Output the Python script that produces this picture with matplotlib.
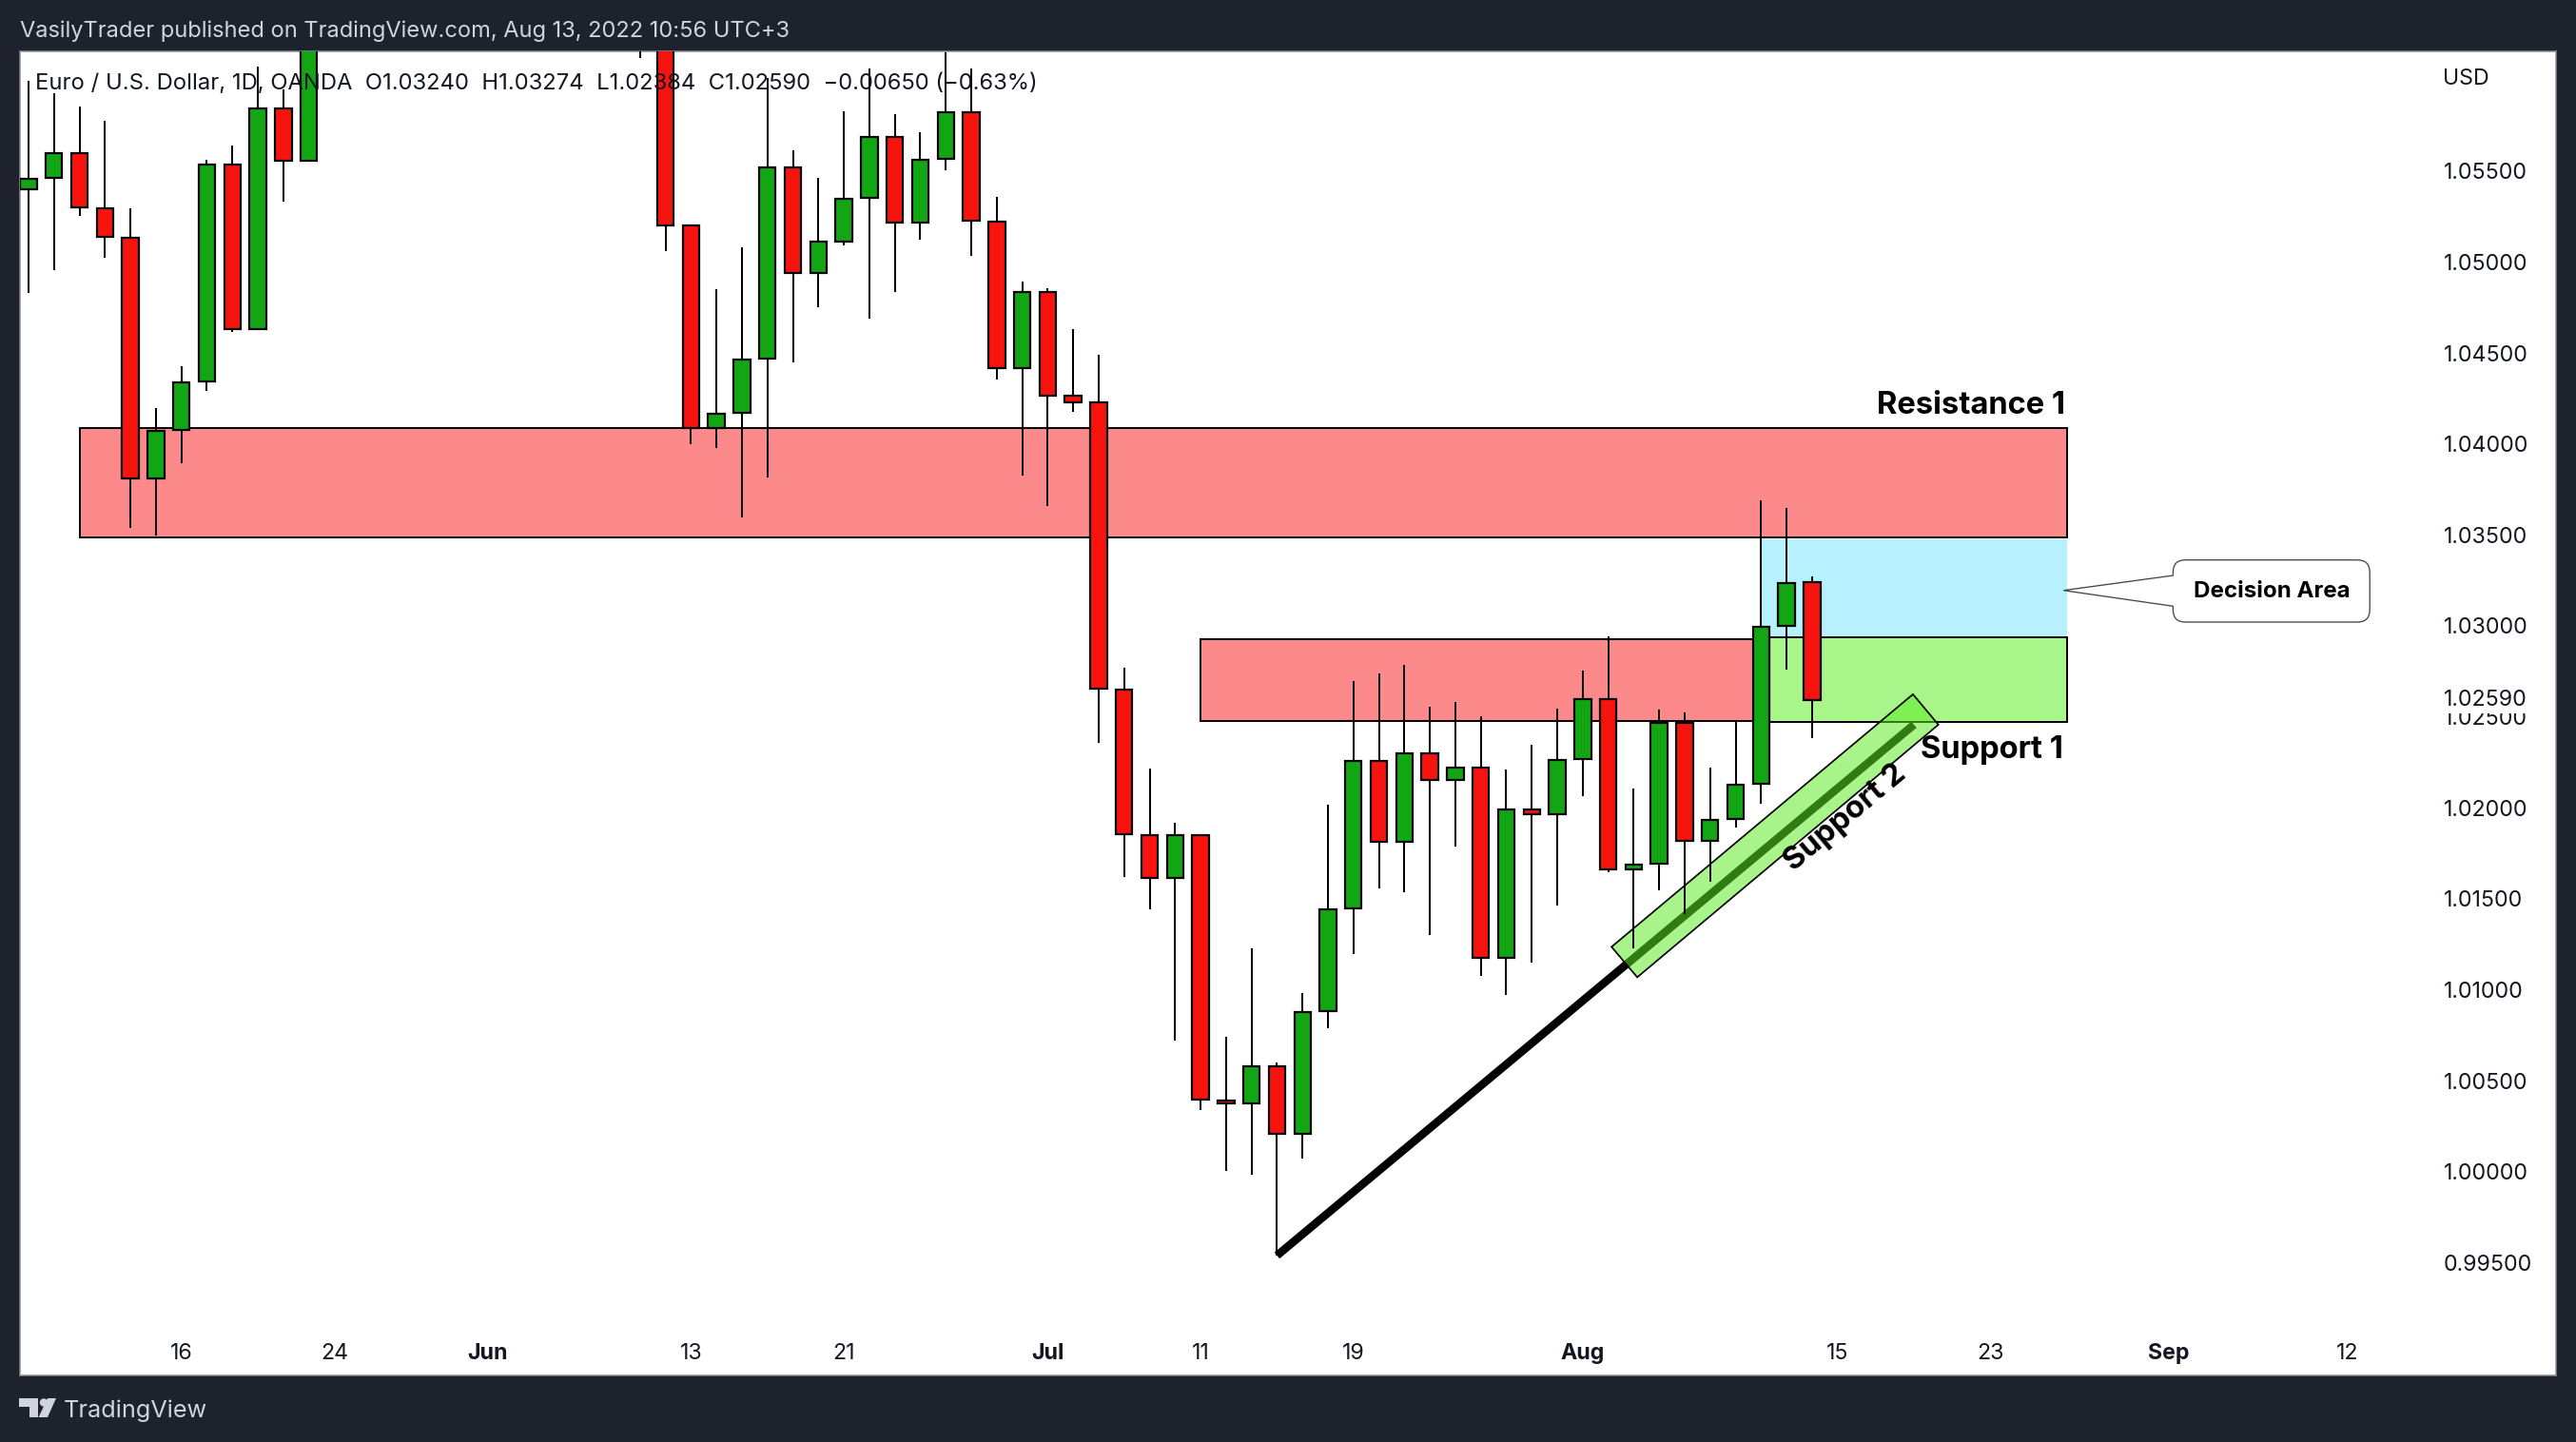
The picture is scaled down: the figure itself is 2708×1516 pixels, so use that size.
import numpy as np
import matplotlib
matplotlib.use('Agg')
import matplotlib.pyplot as plt
from matplotlib.patches import Polygon, PathPatch, Circle, Rectangle
from matplotlib.path import Path

plt.rcParams['font.family'] = ['Inter', 'DejaVu Sans']

# Candles by trading day, 0 = 10 May 2022. Days 12-23 sit above the visible range.
nan = float('nan')
opens = [1.05397, 1.05462, 1.05599, 1.05295, 1.05135, 1.03810, 1.04075, 1.04341, 1.05537, 1.04629,
         1.05841, 1.05557, nan, nan, nan, nan, nan, nan, nan, nan,
         nan, nan, nan, nan, 1.07150, 1.06200, 1.05203, 1.04089, 1.04169, 1.04470,
         1.05521, 1.04939, 1.05113, 1.05352, 1.05688, 1.05216, 1.05566, 1.05825, 1.05222, 1.04416,
         1.04832, 1.04263, 1.04226, 1.02650, 1.01852, 1.01615, 1.01852, 1.00393, 1.00375, 1.00582,
         1.00209, 1.00882, 1.01446, 1.02258, 1.01812, 1.02300, 1.02152, 1.02222, 1.01176, 1.01993,
         1.01965, 1.02269, 1.02599, 1.01662, 1.01694, 1.02469, 1.01817, 1.01937, 1.02133, 1.03000,
         1.03240]
highs = [1.05995, 1.05925, 1.05854, 1.05775, 1.05293, 1.04199, 1.04429, 1.05559, 1.05639, 1.06073,
         1.05948, 1.06980, nan, nan, nan, nan, nan, nan, nan, nan,
         nan, nan, nan, nan, 1.07750, 1.06400, 1.05203, 1.04849, 1.05078, 1.06010,
         1.05614, 1.05462, 1.05827, 1.06063, 1.05812, 1.05712, 1.06151, 1.06063, 1.05357, 1.04892,
         1.04858, 1.04631, 1.04490, 1.02768, 1.02214, 1.01916, 1.01852, 1.00742, 1.01228, 1.00599,
         1.00982, 1.02016, 1.02697, 1.02739, 1.02784, 1.02556, 1.02580, 1.02502, 1.02211, 1.02347,
         1.02545, 1.02754, 1.02941, 1.02106, 1.02540, 1.02523, 1.02221, 1.02474, 1.03690, 1.03648,
         1.03274]
lows = [1.04831, 1.04955, 1.05255, 1.05025, 1.03539, 1.03498, 1.03895, 1.04293, 1.04617, 1.04623,
        1.05333, 1.05557, nan, nan, nan, nan, nan, nan, nan, nan,
        nan, nan, nan, nan, 1.06118, 1.05059, 1.03999, 1.03975, 1.03598, 1.03813,
        1.04448, 1.04753, 1.05093, 1.04690, 1.04832, 1.05123, 1.05505, 1.05035, 1.04356, 1.03828,
        1.03659, 1.04178, 1.02358, 1.01622, 1.01444, 1.00723, 1.00341, 1.00007, 0.99986, 0.99540,
        1.00075, 1.00791, 1.01197, 1.01558, 1.01538, 1.01302, 1.01788, 1.01078, 1.00974, 1.01147,
        1.01464, 1.02062, 1.01646, 1.01229, 1.01548, 1.01418, 1.01595, 1.01894, 1.02025, 1.02762,
        1.02384]
closes = [1.05457, 1.05599, 1.05299, 1.05137, 1.03810, 1.04073, 1.04339, 1.05537, 1.04629, 1.05841,
          1.05557, 1.06900, nan, nan, nan, nan, nan, nan, nan, nan,
          nan, nan, nan, nan, 1.06200, 1.05203, 1.04089, 1.04167, 1.04466, 1.05521,
          1.04939, 1.05113, 1.05349, 1.05688, 1.05216, 1.05561, 1.05825, 1.05226, 1.04416, 1.04832,
          1.04263, 1.04227, 1.02655, 1.01854, 1.01615, 1.01852, 1.00397, 1.00375, 1.00582, 1.00209,
          1.00879, 1.01444, 1.02258, 1.01812, 1.02300, 1.02152, 1.02222, 1.01176, 1.01992, 1.01965,
          1.02265, 1.02599, 1.01660, 1.01690, 1.02469, 1.01817, 1.01935, 1.02129, 1.02997, 1.03236,
          1.02590]
# a few almost flat bars: colour taken from the picture, not from open/close
red_doji = [47, 59]
green_doji = [63]

price_ticks = [0.995, 1.000, 1.005, 1.010, 1.015, 1.020, 1.025, 1.030, 1.035, 1.040, 1.045, 1.050, 1.055]
day_ticks = [6, 12, 18, 26, 32, 40, 46, 52, 61, 71, 77, 84, 91]
day_labels = ['16', '24', 'Jun', '13', '21', 'Jul', '11', '19', 'Aug', '15', '23', 'Sep', '12']
month_labels = ['Jun', 'Jul', 'Aug', 'Sep']
last_price = 1.02590

# Zones: day start, day end, price top, price bottom
resistance_1 = [2, 80, 1.04089, 1.03486]
resistance_small = [46, 68, 1.02928, 1.02478]
decision_blue = [68, 80, 1.03475, 1.02937]
support_1 = [68, 80, 1.02937, 1.02472]

# Trend line and channel around it
trend_days = [49, 74]
trend_prices = [0.99540, 1.02457]
channel_days = [62.13, 63.14, 74.96, 73.96]
channel_prices = [1.01236, 1.01069, 1.02457, 1.02624]

BG = '#1e222d'
RED = '#f8140e'
GREEN = '#12a615'
ZONE_RED = '#fc8a8a'
ZONE_GREEN = '#a8f58a'
ZONE_BLUE = '#b7f0ff'
TEXT = '#131722'
CHROME = '#d1d4dc'
PX = 0.72  # 1 px in points at dpi 100

W, H = 2708, 1516
fig = plt.figure(figsize=(W / 100, H / 100), dpi=100, facecolor=BG)

left, right, top, bottom = 20.6, 2687, 54, 1446
ax = fig.add_axes([left / W, 1 - bottom / H, (right - left) / W, (bottom - top) / H])
ax.set_facecolor('white')
ax.set_xlim(-0.351, 99.2)
ax.set_ylim(0.98881, 1.06157)
for s in ax.spines.values():
    s.set_color('#8a8d96')
    s.set_linewidth(1.5 * PX)

days = np.arange(len(opens))
o = np.array(opens)
c = np.array(closes)
hi = np.array(highs)
lo = np.array(lows)
ok = ~np.isnan(o)
up = c >= o
up[red_doji] = False
up[green_doji] = True

# zones under everything
for z, col, edge in [(resistance_1, ZONE_RED, 'black'), (resistance_small, ZONE_RED, 'black'),
                     (decision_blue, ZONE_BLUE, 'none'), (support_1, ZONE_GREEN, 'black')]:
    ax.add_patch(Rectangle((z[0], z[3]), z[1] - z[0], z[2] - z[3], facecolor=col, edgecolor=edge,
                           linewidth=2 * PX, zorder=1))

ax.plot(trend_days, trend_prices, color='black', lw=8.5 * PX, solid_capstyle='butt', zorder=2)
ax.add_patch(Polygon(np.column_stack([channel_days, channel_prices]), closed=True, facecolor='#5bec22',
                     alpha=0.53, edgecolor='none', zorder=3))
ax.add_patch(Polygon(np.column_stack([channel_days, channel_prices]), closed=True, facecolor='none',
                     edgecolor='black', linewidth=1.7 * PX, zorder=3))

# candles
ax.vlines(days[ok], lo[ok], hi[ok], color='black', lw=2 * PX, zorder=4)
ax.bar(days[ok], np.abs(c - o)[ok], bottom=np.minimum(o, c)[ok], width=0.65,
       color=[GREEN if u else RED for u in up[ok]], edgecolor='black', linewidth=2.2 * PX, zorder=5)

# symbol line is drawn over the candles
ax.text(0.00604, 0.9757, 'Euro / U.S. Dollar, 1D, OANDA  O1.03240  H1.03274  L1.02384  C1.02590  '
        '\u22120.00650 (\u22120.63%)', transform=ax.transAxes, fontsize=17.15, color=TEXT, va='center', zorder=6)

ax.text(79.93, 1.04212, 'Resistance 1', ha='right', va='center', fontsize=23.5, fontweight='bold', color='black', zorder=6)
ax.text(79.87, 1.02316, 'Support 1', ha='right', va='center', fontsize=23.5, fontweight='bold', color='black', zorder=6)
ax.text(71.3, 1.01945, 'Support 2', ha='center', va='center', rotation=40, rotation_mode='anchor',
        fontsize=23.5, fontweight='bold', color='black', zorder=6)

# price scale inside the white area, on the right
ax.yaxis.tick_right()
ax.set_yticks(price_ticks)
ax.set_yticklabels(['%.5f' % p for p in price_ticks])
ax.tick_params(axis='y', length=0, pad=-118 * PX, labelsize=16.7, labelcolor=TEXT)
ax.set_xticks(day_ticks)
ax.set_xticklabels(day_labels)
ax.tick_params(axis='x', length=0, pad=-34 * PX, labelsize=16.7, labelcolor=TEXT)
for lab in ax.get_xticklabels():
    if lab.get_text() in month_labels:
        lab.set_fontweight('bold')

ax.text(0.9558, last_price, '%.5f' % last_price, transform=ax.get_yaxis_transform(), fontsize=16.7, color=TEXT,
        va='center', ha='left', zorder=7, bbox=dict(facecolor='white', edgecolor='none', pad=1.5))

# page furniture in pixel coordinates
over = fig.add_axes([0, 0, 1, 1])
over.set_xlim(0, W)
over.set_ylim(H, 0)
over.axis('off')
over.patch.set_alpha(0)

over.text(20.7, 32.5, 'VasilyTrader published on TradingView.com, Aug 13, 2022 10:56 UTC+3',
          fontsize=17, color=CHROME, va='center')
over.text(2568, 83, 'USD', fontsize=16.7, color=TEXT, va='center')
over.text(67, 1483, 'TradingView', fontsize=18.2, color=CHROME, va='center')

# logo
over.add_patch(Polygon([(20, 1470), (40, 1470), (40, 1490), (31, 1490), (31, 1479), (20, 1479)], color=CHROME, lw=0))
over.add_patch(Circle((46, 1474.5), 4.2, color=CHROME, lw=0))
over.add_patch(Polygon([(50, 1470), (59, 1470), (50, 1490), (40.5, 1490)], color=CHROME, lw=0))

# Decision Area callout
x0, x1, y0, y1, r = 2284.4, 2491.2, 588.7, 654, 13
verts = [(x0 + r, y0), (x1 - r, y0), (x1, y0), (x1, y0 + r), (x1, y1 - r), (x1, y1), (x1 - r, y1),
         (x0 + r, y1), (x0, y1), (x0, y1 - r), (x0, 637.3), (2169.3, 620.7), (x0, 605), (x0, y0 + r),
         (x0, y0), (x0 + r, y0)]
codes = [Path.MOVETO, Path.LINETO, Path.CURVE3, Path.CURVE3, Path.LINETO, Path.CURVE3, Path.CURVE3,
         Path.LINETO, Path.CURVE3, Path.CURVE3, Path.LINETO, Path.LINETO, Path.LINETO, Path.LINETO,
         Path.CURVE3, Path.CURVE3]
over.add_patch(PathPatch(Path(verts, codes), facecolor='white', edgecolor='#444444', linewidth=1.3 * PX))
over.text(2388.3, 621.5, 'Decision Area', fontsize=17.4, fontweight='bold', color='black', ha='center', va='center')

fig.savefig('out.png', dpi=100, facecolor=BG)
